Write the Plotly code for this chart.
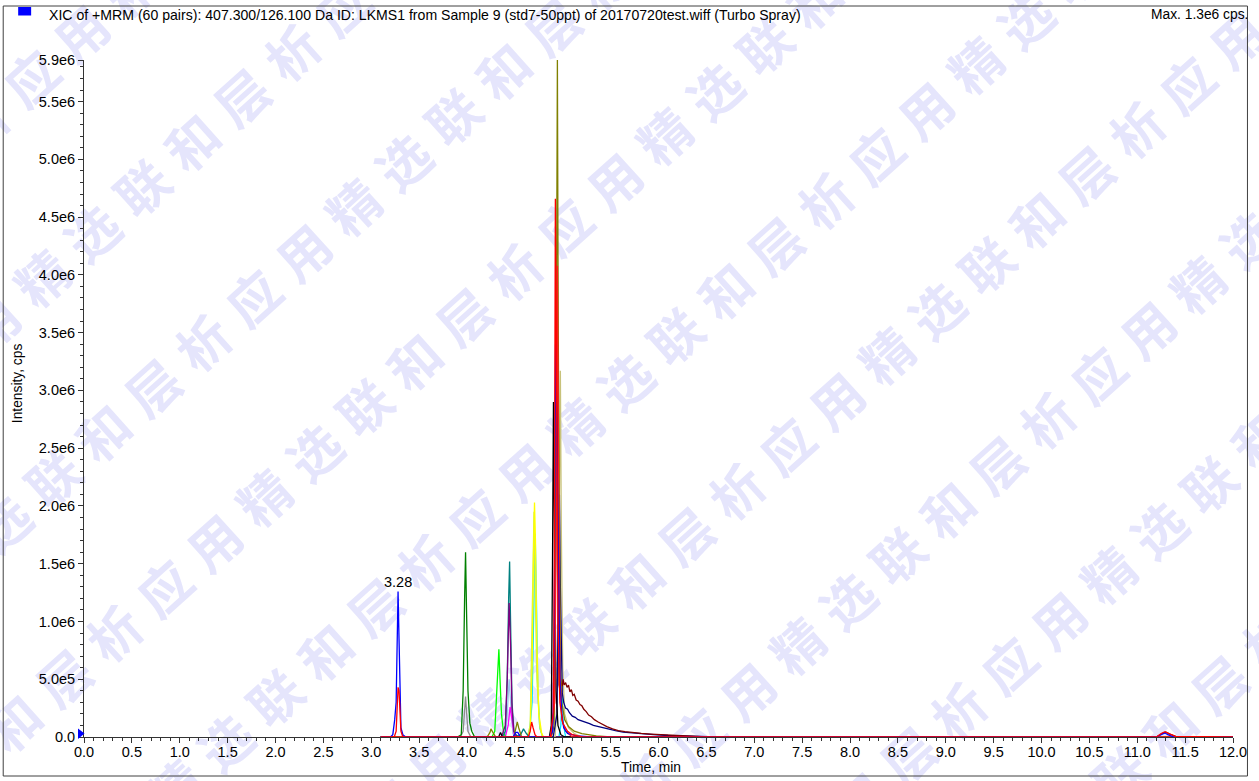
import math
import plotly.graph_objects as go

# ---------------------------------------------------------------
# XIC traces: retention time (min) and intensity (cps)
# ---------------------------------------------------------------
BLUE_T = [3.10, 3.20, 3.225, 3.245, 3.26, 3.27, 3.28, 3.29, 3.30, 3.31, 3.33, 3.36,
          4.48, 4.51, 4.53, 4.56, 4.86, 4.895, 4.91, 4.925, 4.94, 4.955, 4.97, 4.99,
          5.01, 5.05, 5.15, 5.30, 11.20, 11.26, 11.29, 11.32, 11.38, 12.00]
BLUE_I = [0, 0, 0.02e6, 0.15e6, 0.30e6, 0.95e6, 1.26e6, 0.85e6, 0.35e6, 0.08e6, 0.02e6, 0,
          0, 0.04e6, 0.04e6, 0, 0, 0.05e6, 0.8e6, 3.40e6, 2.5e6, 1.2e6, 0.5e6, 0.2e6,
          0.08e6, 0.03e6, 0.01e6, 0, 0, 0.025e6, 0.035e6, 0.02e6, 0, 0]

RED_T = [3.10, 3.24, 3.26, 3.27, 3.28, 3.29, 3.30, 3.31, 3.33, 4.64, 4.66, 4.675, 4.69,
         4.71, 4.73, 4.87, 4.90, 4.912, 4.923, 4.935, 4.95, 4.97, 5.00, 5.05, 5.10, 5.20,
         11.20, 11.25, 11.29, 11.33, 11.40, 12.00]
RED_I = [0, 0, 0.05e6, 0.25e6, 0.43e6, 0.40e6, 0.20e6, 0.05e6, 0, 0, 0.05e6, 0.13e6, 0.08e6,
         0.02e6, 0, 0, 0.2e6, 1.5e6, 4.66e6, 3.0e6, 1.0e6, 0.3e6, 0.12e6, 0.05e6, 0.02e6, 0,
         0, 0.03e6, 0.046e6, 0.03e6, 0.005e6, 0]

RED2_T = [3.10, 4.88, 4.915, 4.932, 4.944, 4.955, 4.97, 4.99, 5.03, 5.10, 12.00]
RED2_I = [0, 0, 0.3e6, 1.8e6, 4.08e6, 2.2e6, 0.6e6, 0.15e6, 0.05e6, 0, 0]

OLIVE_T = [3.10, 4.21, 4.24, 4.25, 4.27, 4.30, 4.49, 4.51, 4.525, 4.54, 4.57, 4.88, 4.91,
           4.925, 4.936, 4.944, 4.953, 4.963, 4.975, 4.99, 5.02, 5.06, 5.12, 5.20, 5.35,
           5.50, 12.00]
OLIVE_I = [0, 0, 0.04e6, 0.07e6, 0.04e6, 0, 0, 0.08e6, 0.13e6, 0.08e6, 0, 0, 0.1e6,
           1.5e6, 4.0e6, 5.86e6, 3.5e6, 1.5e6, 0.6e6, 0.3e6, 0.15e6, 0.09e6, 0.05e6, 0.03e6,
           0.01e6, 0, 0]

MAROON_T = [3.10, 4.88, 4.915, 4.93, 4.94, 4.948, 4.955, 4.962, 4.968, 4.975, 4.985, 4.995,
            5.005, 5.015, 5.03, 5.045, 5.06, 5.075, 5.09, 5.105, 5.12, 5.14, 5.16, 5.18,
            5.20, 5.22, 5.245, 5.27, 5.30, 5.33, 5.37, 5.41, 5.46, 5.52, 5.58, 5.65, 5.73,
            5.82, 5.92, 6.02, 6.15, 6.30, 6.50, 11.20, 11.26, 11.30, 11.34, 11.42, 12.00]
MAROON_I = [0, 0, 0.3e6, 2.0e6, 3.76e6, 2.2e6, 1.0e6, 0.45e6, 0.42e6, 0.51e6, 0.46e6, 0.44e6,
            0.50e6, 0.45e6, 0.47e6, 0.43e6, 0.45e6, 0.39e6, 0.41e6, 0.36e6, 0.37e6, 0.32e6,
            0.31e6, 0.28e6, 0.27e6, 0.24e6, 0.22e6, 0.19e6, 0.175e6, 0.15e6, 0.13e6, 0.11e6,
            0.09e6, 0.07e6, 0.055e6, 0.047e6, 0.038e6, 0.031e6, 0.025e6, 0.02e6, 0.013e6,
            0.007e6, 0, 0, 0.03e6, 0.042e6, 0.025e6, 0, 0]

NAVY_T = [3.10, 4.90, 4.94, 4.955, 4.965, 4.975, 4.985, 4.995, 5.01, 5.03, 5.05, 5.07, 5.10,
          5.13, 5.16, 5.20, 5.24, 5.28, 5.32, 5.37, 5.42, 5.48, 5.55, 5.63, 5.72, 5.82, 5.95,
          6.10, 6.30, 6.60, 12.00]
NAVY_I = [0, 0, 0.2e6, 1.2e6, 2.1e6, 1.3e6, 0.6e6, 0.38e6, 0.30e6, 0.25e6, 0.24e6, 0.21e6,
          0.18e6, 0.17e6, 0.15e6, 0.14e6, 0.125e6, 0.115e6, 0.10e6, 0.09e6, 0.08e6, 0.065e6,
          0.055e6, 0.042e6, 0.035e6, 0.027e6, 0.02e6, 0.013e6, 0.007e6, 0, 0]

BLACK_T = [3.10, 4.33, 4.35, 4.37, 4.86, 4.88, 4.893, 4.903, 4.915, 4.93, 4.95, 4.98, 5.02, 12.00]
BLACK_I = [0, 0, 0.04e6, 0, 0, 0.1e6, 1.5e6, 2.9e6, 1.6e6, 0.4e6, 0.1e6, 0.02e6, 0, 0]

KHAKI_T = [3.10, 4.92, 4.95, 4.965, 4.975, 4.985, 5.00, 5.02, 5.06, 5.12, 5.20, 12.00]
KHAKI_I = [0, 0, 0.5e6, 2.0e6, 3.17e6, 1.8e6, 0.6e6, 0.2e6, 0.08e6, 0.03e6, 0, 0]

GREEN_T = [3.10, 3.90, 3.94, 3.96, 3.975, 3.985, 3.995, 4.01, 4.03, 4.05, 4.08, 12.00]
GREEN_I = [0, 0, 0.02e6, 0.4e6, 1.2e6, 1.60e6, 1.1e6, 0.4e6, 0.12e6, 0.05e6, 0, 0]

GRAY_T = [3.10, 3.93, 3.96, 3.975, 3.985, 3.995, 4.01, 4.04, 12.00]
GRAY_I = [0, 0, 0.05e6, 0.3e6, 0.35e6, 0.22e6, 0.05e6, 0, 0]

LIME_T = [3.10, 4.26, 4.29, 4.31, 4.333, 4.345, 4.36, 4.38, 4.40, 12.00]
LIME_I = [0, 0, 0.05e6, 0.4e6, 0.76e6, 0.5e6, 0.2e6, 0.05e6, 0, 0]

TEAL_T = [3.10, 4.37, 4.40, 4.42, 4.435, 4.445, 4.455, 4.47, 4.49, 4.52, 4.56, 4.59, 4.62,
          4.65, 12.00]
TEAL_I = [0, 0, 0.05e6, 0.5e6, 1.2e6, 1.52e6, 1.0e6, 0.3e6, 0.05e6, 0.01e6, 0.02e6, 0.07e6,
          0.03e6, 0, 0]

PURPLE_T = [3.10, 4.36, 4.40, 4.42, 4.44, 4.455, 4.47, 4.49, 4.52, 12.00]
PURPLE_I = [0, 0, 0.1e6, 0.5e6, 1.16e6, 0.8e6, 0.25e6, 0.05e6, 0, 0]

SKY_T = [3.10, 4.40, 4.42, 4.44, 4.46, 4.48, 4.50, 12.00]
SKY_I = [0, 0, 0.2e6, 0.5e6, 0.25e6, 0.03e6, 0, 0]

MAGENTA_T = [3.10, 4.40, 4.43, 4.45, 4.47, 4.49, 4.52, 12.00]
MAGENTA_I = [0, 0, 0.1e6, 0.26e6, 0.15e6, 0.03e6, 0, 0]

YELLOW_T = [3.10, 4.63, 4.66, 4.68, 4.695, 4.705, 4.715, 4.73, 4.75, 4.78, 4.80, 12.00]
YELLOW_I = [0, 0, 0.05e6, 0.6e6, 1.6e6, 2.03e6, 1.7e6, 0.8e6, 0.2e6, 0.03e6, 0, 0]

CHARTREUSE_T = [3.10, 4.63, 4.66, 4.678, 4.69, 4.70, 4.712, 4.73, 4.76, 4.79, 12.00]
CHARTREUSE_I = [0, 0, 0.1e6, 0.9e6, 1.7e6, 1.95e6, 1.3e6, 0.5e6, 0.08e6, 0, 0]

CYAN_T = [3.10, 4.65, 4.68, 4.70, 4.712, 4.725, 4.74, 4.76, 4.79, 4.96, 4.98, 4.993, 5.005,
          5.03, 12.00]
CYAN_I = [0, 0, 0.3e6, 1.2e6, 1.76e6, 1.2e6, 0.4e6, 0.08e6, 0, 0, 0.1e6, 0.38e6, 0.12e6, 0, 0]

# drawing order, bottom layer first
SERIES = [
    (GRAY_T, GRAY_I), (SKY_T, SKY_I), (CYAN_T, CYAN_I), (CHARTREUSE_T, CHARTREUSE_I),
    (YELLOW_T, YELLOW_I), (MAGENTA_T, MAGENTA_I), (LIME_T, LIME_I), (GREEN_T, GREEN_I),
    (TEAL_T, TEAL_I), (PURPLE_T, PURPLE_I), (KHAKI_T, KHAKI_I), (NAVY_T, NAVY_I),
    (MAROON_T, MAROON_I), (BLACK_T, BLACK_I), (OLIVE_T, OLIVE_I), (RED2_T, RED2_I),
    (BLUE_T, BLUE_I), (RED_T, RED_I),
]
SERIES_COLORS = [
    "#8c8c8c", "#9ec3ee", "#00e5ff", "#c8f04a",
    "#ffff00", "#ff00ff", "#00ff00", "#008000",
    "#008080", "#800080", "#c8c27a", "#000080",
    "#800000", "#000000", "#808000", "#ff1a1a",
    "#0000ff", "#ff0000",
]

# axis ticks
Y_TICK_VALUES = [0, 0.5e6, 1.0e6, 1.5e6, 2.0e6, 2.5e6, 3.0e6, 3.5e6, 4.0e6, 4.5e6, 5.0e6, 5.5e6]
Y_TICK_TEXT = ["0.0", "5.0e5", "1.0e6", "1.5e6", "2.0e6", "2.5e6", "3.0e6", "3.5e6",
               "4.0e6", "4.5e6", "5.0e6", "5.5e6"]
X_RANGE = [0.0, 12.0]

TITLE_TEXT = ("XIC of +MRM (60 pairs): 407.300/126.100 Da ID: LKMS1 from Sample 9 "
              "(std7-50ppt) of 20170720test.wiff (Turbo Spray)")
MAX_TEXT = "Max. 1.3e6 cps."
PEAK_TIME = 3.28
WATERMARK = "联和层析应用精选"

# ---------------------------------------------------------------
# page geometry (pixels)
# ---------------------------------------------------------------
W, H = 1259, 781
L, R, T, B = 84, 23, 60, 44
PW, PH = W - L - R, H - T - B

def px(x):
    return (x - L) / PW

def py(y):
    return (H - B - y) / PH

FONT = "Liberation Sans, Arial, sans-serif"
AXIS_COLOR = "#333333"

y_max = max(max(i) for _, i in SERIES)

fig = go.Figure()
for (t, inten), col in zip(SERIES, SERIES_COLORS):
    fig.add_trace(go.Scatter(x=t, y=inten, mode="lines",
                             line=dict(color=col, width=1.3), hoverinfo="skip",
                             showlegend=False))

# top-of-axis label shows the autoscaled maximum
y_vals = Y_TICK_VALUES + [y_max]
y_text = Y_TICK_TEXT + [f"{y_max / 1e6:.1f}e6"]

shapes = []

# diagonal watermark, one glyph per shape so the spacing can be set
ang = math.radians(42)
dx, dy = math.cos(ang), -math.sin(ang)
pitch = 67.5
row_step = (312.0, -71.0)
ox, oy = 592.0, 631.0
for k in range(-10, 11):
    for m in range(-40, 40):
        cx = ox + k * row_step[0] + m * pitch * dx
        cy = oy + k * row_step[1] + m * pitch * dy
        if -50 < cx < W + 50 and -50 < cy < H + 50:
            ch = WATERMARK[m % len(WATERMARK)]
            shapes.append(dict(
                type="rect", xref="paper", yref="paper", layer="below",
                x0=px(cx - 1), x1=px(cx + 1), y0=py(cy + 1), y1=py(cy - 1),
                line=dict(width=0), fillcolor="rgba(0,0,0,0)",
                label=dict(text=ch, textangle=-42, textposition="middle center",
                           font=dict(family="Noto Sans CJK SC", size=52, weight=700,
                                     color="rgb(229,229,252)")),
            ))

# outer frame
shapes.append(dict(type="rect", xref="paper", yref="paper", layer="above",
                   x0=px(3), x1=px(1250.5), y0=py(776), y1=py(6),
                   line=dict(color="#404040", width=1), fillcolor="rgba(0,0,0,0)"))
# trace colour swatch beside the title
shapes.append(dict(type="rect", xref="paper", yref="paper", layer="above",
                   x0=px(18), x1=px(31), y0=py(15.5), y1=py(7),
                   line=dict(width=0), fillcolor="#0000ff"))
# threshold marker at the origin
shapes.append(dict(type="path", xref="paper", yref="paper", layer="above",
                   path=f"M {px(78)},{py(728.5)} L {px(78)},{py(739)} L {px(84.5)},{py(733.5)} Z",
                   line=dict(width=0), fillcolor="#0000ff"))

# apex of the labelled peak
peak_idx = min(range(len(BLUE_T)), key=lambda i: abs(BLUE_T[i] - PEAK_TIME))
annotations = [
    dict(text=TITLE_TEXT, xref="paper", yref="paper", x=px(47), y=py(14.5),
         xanchor="left", yanchor="middle", showarrow=False,
         font=dict(family=FONT, size=14.1, color="black")),
    dict(text=MAX_TEXT, xref="paper", yref="paper", x=px(1253), y=py(14.5),
         xanchor="right", yanchor="middle", showarrow=False,
         font=dict(family=FONT, size=13.8, color="black")),
    dict(text="Intensity, cps", xref="paper", yref="paper", x=px(18), y=py(383),
         xanchor="center", yanchor="middle", textangle=-90, showarrow=False,
         font=dict(family=FONT, size=13.8, color="black")),
    dict(text="Time, min", xref="paper", yref="paper", x=px(652), y=py(767),
         xanchor="center", yanchor="middle", showarrow=False,
         font=dict(family=FONT, size=13.8, color="black")),
    dict(text=f"{BLUE_T[peak_idx]:.2f}", x=BLUE_T[peak_idx], y=BLUE_I[peak_idx],
         xref="x", yref="y", xanchor="center", yanchor="bottom", showarrow=False,
         yshift=-1, font=dict(family=FONT, size=14.5, color="black")),
]

fig.update_layout(
    width=W, height=H,
    margin=dict(l=L, r=R, t=T, b=B, pad=0),
    paper_bgcolor="white", plot_bgcolor="rgba(0,0,0,0)",
    showlegend=False,
    shapes=shapes, annotations=annotations,
    xaxis=dict(range=X_RANGE, showgrid=False, zeroline=False,
               showline=True, linecolor=AXIS_COLOR, linewidth=1,
               tickmode="linear", tick0=0, dtick=0.5, tickformat=".1f",
               ticks="outside", ticklen=5, tickwidth=1, tickcolor=AXIS_COLOR,
               ticklabelstandoff=-3,
               minor=dict(tickmode="linear", tick0=0, dtick=0.1, ticks="outside",
                          ticklen=3, tickwidth=1, tickcolor=AXIS_COLOR),
               tickfont=dict(family=FONT, size=14.5, color="black")),
    yaxis=dict(range=[0, y_max], showgrid=False, zeroline=False,
               showline=True, linecolor=AXIS_COLOR, linewidth=1,
               tickmode="array", tickvals=y_vals, ticktext=y_text,
               ticks="outside", ticklen=5, tickwidth=1, tickcolor=AXIS_COLOR,
               minor=dict(tickmode="linear", tick0=0, dtick=1e5, ticks="outside",
                          ticklen=3, tickwidth=1, tickcolor=AXIS_COLOR),
               tickfont=dict(family=FONT, size=14.5, color="black")),
)

fig.write_html("out.html")
